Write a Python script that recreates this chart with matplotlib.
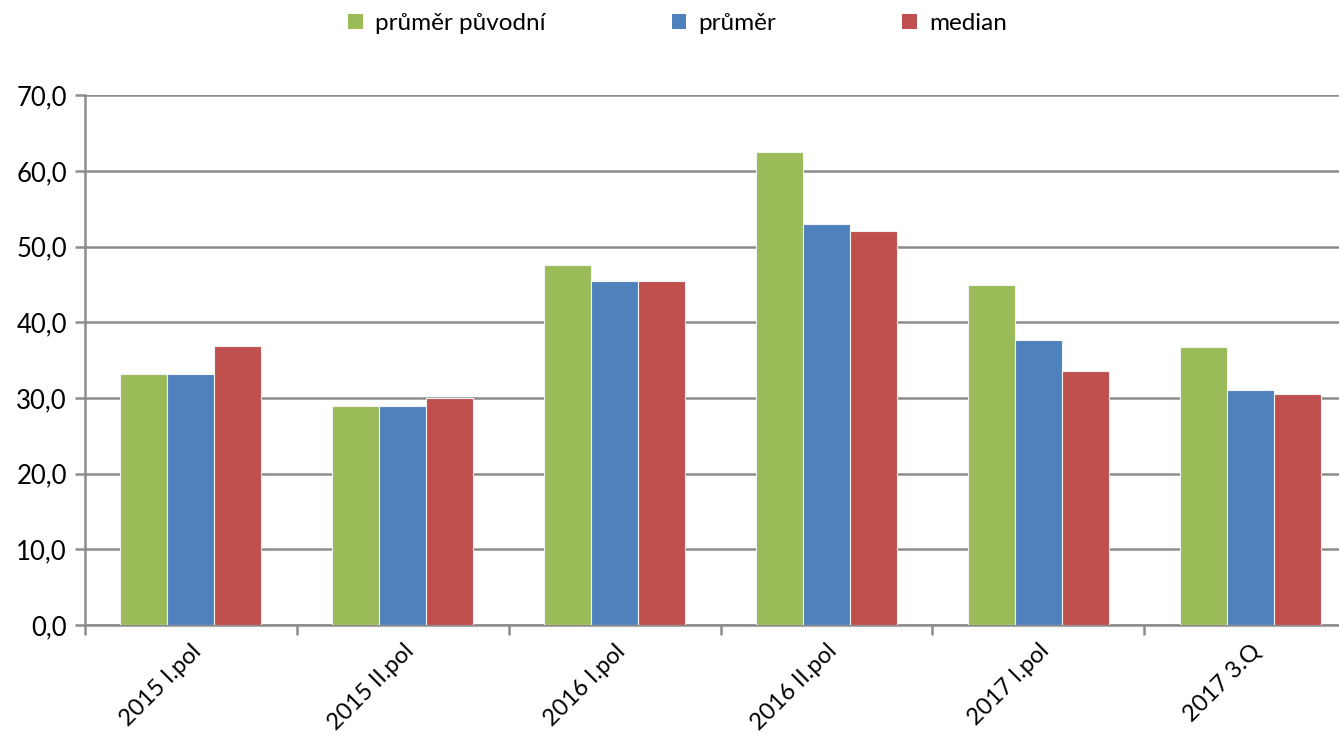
import numpy as np
import matplotlib.pyplot as plt
from matplotlib.patches import Patch

plt.rcParams['font.family'] = ['Lato', 'DejaVu Sans']

# Data
periods = ['2015 I.pol', '2015 II.pol', '2016 I.pol', '2016 II.pol', '2017 I.pol', '2017 3.Q']
prumer_puvodni = [33.2, 28.9, 47.6, 62.5, 44.9, 36.7]
prumer = [33.2, 28.9, 45.4, 53.0, 37.7, 31.1]
median = [36.9, 30.0, 45.4, 52.0, 33.5, 30.5]

series = [
    ('průměr původní', prumer_puvodni, '#9BBB59'),
    ('průměr', prumer, '#4F81BD'),
    ('median', median, '#C0504D'),
]

fig = plt.figure(figsize=(13.39, 7.38), dpi=100)
# plot area runs slightly past the right edge of the figure
ax = fig.add_axes([0.0635, 0.153, 0.9492, 0.718])

x = np.arange(len(periods))
width = 0.222
for i, (name, vals, color) in enumerate(series):
    ax.bar(x + (i - 1) * width, vals, width, color=color, edgecolor='#f2f2f2',
           linewidth=0.8, zorder=3, label=name)

ax.set_xlim(-0.5, len(periods) - 0.5)
ax.set_ylim(0, 70)
ax.set_yticks(np.arange(0, 71, 10))
ax.set_yticklabels([f'{v:.1f}'.replace('.', ',') for v in np.arange(0, 71, 10)], fontsize=18.5)
ax.yaxis.grid(True, color='#8c8c8c', linewidth=1.8, zorder=0)

ax.set_xticks(x)
ax.set_xticklabels(periods, rotation=45, ha='right', va='top', rotation_mode='anchor', fontsize=17)
ax.tick_params(axis='x', length=0, pad=11)
ax.set_xticks(np.arange(-0.5, len(periods)), minor=True)
ax.tick_params(axis='x', which='minor', length=7, width=1.8, color='#8c8c8c')
ax.tick_params(axis='y', length=7, width=1.8, color='#8c8c8c', pad=6)

for side in ['top', 'right']:
    ax.spines[side].set_visible(False)
for side in ['left', 'bottom']:
    ax.spines[side].set_color('#8c8c8c')
    ax.spines[side].set_linewidth(1.8)

handles = [Patch(facecolor=c, edgecolor='none', label=n) for n, _, c in series]
fig.legend(handles=handles, loc='upper center', bbox_to_anchor=(0.506, 1.012), ncol=3,
           frameon=False, fontsize=17.5, handlelength=0.6, handleheight=0.6,
           handletextpad=0.5, columnspacing=5.2)

plt.savefig('out.png', dpi=100)
